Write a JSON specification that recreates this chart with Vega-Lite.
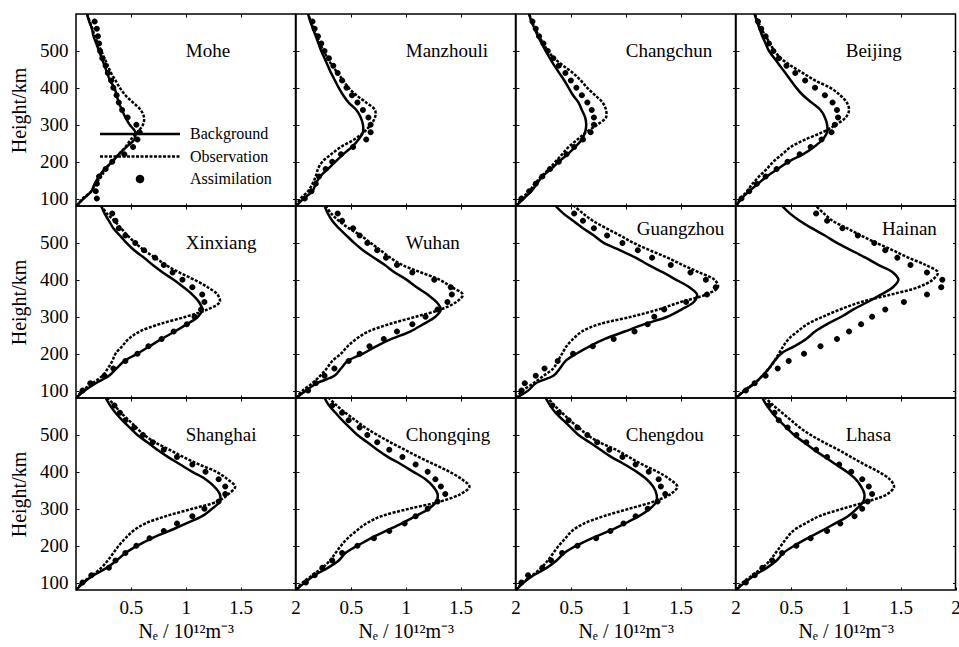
{
"$schema":"https://vega.github.io/schema/vega-lite/v6.json",
"background":"white",
"padding":{"left":8,"top":12,"right":0,"bottom":0},
"datasets":{"d":[
{"s":"Mohe","h":600,"b":0.10,"o":0.10},
{"s":"Mohe","h":580,"b":0.12,"o":0.125,"a":0.17},
{"s":"Mohe","h":560,"b":0.145,"o":0.15,"a":0.19},
{"s":"Mohe","h":540,"b":0.16,"o":0.17,"a":0.20},
{"s":"Mohe","h":520,"b":0.185,"o":0.20,"a":0.21},
{"s":"Mohe","h":500,"b":0.21,"o":0.23,"a":0.22},
{"s":"Mohe","h":480,"b":0.235,"o":0.26,"a":0.24},
{"s":"Mohe","h":460,"b":0.26,"o":0.29,"a":0.27},
{"s":"Mohe","h":440,"b":0.285,"o":0.32,"a":0.29},
{"s":"Mohe","h":420,"b":0.31,"o":0.36,"a":0.32},
{"s":"Mohe","h":400,"b":0.35,"o":0.40,"a":0.34},
{"s":"Mohe","h":380,"b":0.37,"o":0.45,"a":0.37},
{"s":"Mohe","h":360,"b":0.39,"o":0.52,"a":0.39},
{"s":"Mohe","h":340,"b":0.42,"o":0.59,"a":0.42},
{"s":"Mohe","h":320,"b":0.45,"o":0.62,"a":0.47},
{"s":"Mohe","h":300,"b":0.49,"o":0.61,"a":0.55},
{"s":"Mohe","h":280,"b":0.54,"o":0.56,"a":0.58},
{"s":"Mohe","h":260,"b":0.53,"o":0.50,"a":0.56},
{"s":"Mohe","h":240,"b":0.46,"o":0.45,"a":0.52},
{"s":"Mohe","h":220,"b":0.39,"o":0.39,"a":0.44},
{"s":"Mohe","h":200,"b":0.33,"o":0.33,"a":0.33},
{"s":"Mohe","h":180,"b":0.26,"o":0.27,"a":0.27},
{"s":"Mohe","h":160,"b":0.21,"o":0.23,"a":0.21},
{"s":"Mohe","h":140,"b":0.17,"o":0.18,"a":0.19},
{"s":"Mohe","h":120,"b":0.14,"o":0.14,"a":0.18},
{"s":"Mohe","h":100,"b":0.07,"o":0.06,"a":0.19},
{"s":"Mohe","h":80,"b":0.0,"o":0.01},
{"s":"Manzhouli","h":600,"b":0.11,"o":0.11},
{"s":"Manzhouli","h":580,"b":0.13,"o":0.135,"a":0.15},
{"s":"Manzhouli","h":560,"b":0.155,"o":0.16,"a":0.17},
{"s":"Manzhouli","h":540,"b":0.18,"o":0.19,"a":0.20},
{"s":"Manzhouli","h":520,"b":0.205,"o":0.22,"a":0.23},
{"s":"Manzhouli","h":500,"b":0.23,"o":0.25,"a":0.26},
{"s":"Manzhouli","h":480,"b":0.26,"o":0.29,"a":0.30},
{"s":"Manzhouli","h":460,"b":0.29,"o":0.33,"a":0.34},
{"s":"Manzhouli","h":440,"b":0.32,"o":0.38,"a":0.38},
{"s":"Manzhouli","h":420,"b":0.355,"o":0.43,"a":0.42},
{"s":"Manzhouli","h":400,"b":0.39,"o":0.48,"a":0.46},
{"s":"Manzhouli","h":380,"b":0.43,"o":0.55,"a":0.51},
{"s":"Manzhouli","h":360,"b":0.48,"o":0.64,"a":0.56},
{"s":"Manzhouli","h":340,"b":0.55,"o":0.72,"a":0.61},
{"s":"Manzhouli","h":320,"b":0.59,"o":0.72,"a":0.66},
{"s":"Manzhouli","h":300,"b":0.61,"o":0.68,"a":0.68},
{"s":"Manzhouli","h":280,"b":0.61,"o":0.62,"a":0.68},
{"s":"Manzhouli","h":260,"b":0.57,"o":0.53,"a":0.64},
{"s":"Manzhouli","h":240,"b":0.51,"o":0.41,"a":0.52},
{"s":"Manzhouli","h":220,"b":0.43,"o":0.32,"a":0.41},
{"s":"Manzhouli","h":200,"b":0.36,"o":0.24,"a":0.33},
{"s":"Manzhouli","h":180,"b":0.29,"o":0.20,"a":0.27},
{"s":"Manzhouli","h":160,"b":0.22,"o":0.18,"a":0.21},
{"s":"Manzhouli","h":140,"b":0.18,"o":0.15,"a":0.18},
{"s":"Manzhouli","h":120,"b":0.15,"o":0.11,"a":0.14},
{"s":"Manzhouli","h":100,"b":0.07,"o":0.04,"a":0.08},
{"s":"Manzhouli","h":80,"b":0.0,"o":0.0},
{"s":"Changchun","h":600,"b":0.12,"o":0.12},
{"s":"Changchun","h":580,"b":0.14,"o":0.145,"a":0.15},
{"s":"Changchun","h":560,"b":0.17,"o":0.175,"a":0.18},
{"s":"Changchun","h":540,"b":0.20,"o":0.21,"a":0.21},
{"s":"Changchun","h":520,"b":0.235,"o":0.25,"a":0.25},
{"s":"Changchun","h":500,"b":0.27,"o":0.29,"a":0.29},
{"s":"Changchun","h":480,"b":0.31,"o":0.35,"a":0.34},
{"s":"Changchun","h":460,"b":0.35,"o":0.43,"a":0.39},
{"s":"Changchun","h":440,"b":0.395,"o":0.52,"a":0.45},
{"s":"Changchun","h":420,"b":0.44,"o":0.59,"a":0.50},
{"s":"Changchun","h":400,"b":0.48,"o":0.65,"a":0.55},
{"s":"Changchun","h":380,"b":0.52,"o":0.72,"a":0.60},
{"s":"Changchun","h":360,"b":0.57,"o":0.79,"a":0.65},
{"s":"Changchun","h":340,"b":0.60,"o":0.82,"a":0.69},
{"s":"Changchun","h":320,"b":0.63,"o":0.82,"a":0.71},
{"s":"Changchun","h":300,"b":0.64,"o":0.74,"a":0.71},
{"s":"Changchun","h":280,"b":0.63,"o":0.64,"a":0.68},
{"s":"Changchun","h":260,"b":0.60,"o":0.56,"a":0.61},
{"s":"Changchun","h":240,"b":0.54,"o":0.48,"a":0.53},
{"s":"Changchun","h":220,"b":0.47,"o":0.42,"a":0.46},
{"s":"Changchun","h":200,"b":0.39,"o":0.36,"a":0.39},
{"s":"Changchun","h":180,"b":0.32,"o":0.30,"a":0.31},
{"s":"Changchun","h":160,"b":0.24,"o":0.23,"a":0.24},
{"s":"Changchun","h":140,"b":0.19,"o":0.17,"a":0.18},
{"s":"Changchun","h":120,"b":0.14,"o":0.12,"a":0.12},
{"s":"Changchun","h":100,"b":0.07,"o":0.05,"a":0.05},
{"s":"Changchun","h":80,"b":0.0,"o":0.0},
{"s":"Beijing","h":600,"b":0.17,"o":0.17},
{"s":"Beijing","h":580,"b":0.19,"o":0.20,"a":0.20},
{"s":"Beijing","h":560,"b":0.215,"o":0.23,"a":0.23},
{"s":"Beijing","h":540,"b":0.24,"o":0.27,"a":0.27},
{"s":"Beijing","h":520,"b":0.27,"o":0.31,"a":0.30},
{"s":"Beijing","h":500,"b":0.30,"o":0.35,"a":0.34},
{"s":"Beijing","h":480,"b":0.35,"o":0.41,"a":0.39},
{"s":"Beijing","h":460,"b":0.40,"o":0.50,"a":0.46},
{"s":"Beijing","h":440,"b":0.45,"o":0.61,"a":0.54},
{"s":"Beijing","h":420,"b":0.50,"o":0.72,"a":0.63},
{"s":"Beijing","h":400,"b":0.55,"o":0.86,"a":0.72},
{"s":"Beijing","h":380,"b":0.61,"o":0.95,"a":0.81},
{"s":"Beijing","h":360,"b":0.69,"o":1.01,"a":0.88},
{"s":"Beijing","h":340,"b":0.77,"o":1.03,"a":0.92},
{"s":"Beijing","h":320,"b":0.81,"o":1.00,"a":0.93},
{"s":"Beijing","h":300,"b":0.83,"o":0.91,"a":0.90},
{"s":"Beijing","h":280,"b":0.83,"o":0.79,"a":0.87},
{"s":"Beijing","h":260,"b":0.79,"o":0.63,"a":0.78},
{"s":"Beijing","h":240,"b":0.71,"o":0.50,"a":0.68},
{"s":"Beijing","h":220,"b":0.61,"o":0.42,"a":0.58},
{"s":"Beijing","h":200,"b":0.48,"o":0.34,"a":0.47},
{"s":"Beijing","h":180,"b":0.38,"o":0.28,"a":0.37},
{"s":"Beijing","h":160,"b":0.28,"o":0.21,"a":0.27},
{"s":"Beijing","h":140,"b":0.20,"o":0.15,"a":0.19},
{"s":"Beijing","h":120,"b":0.12,"o":0.10,"a":0.12},
{"s":"Beijing","h":100,"b":0.05,"o":0.04,"a":0.05},
{"s":"Beijing","h":80,"b":0.0,"o":0.0},
{"s":"Xinxiang","h":600,"b":0.23,"o":0.23},
{"s":"Xinxiang","h":580,"b":0.26,"o":0.28,"a":0.33},
{"s":"Xinxiang","h":560,"b":0.30,"o":0.35,"a":0.36},
{"s":"Xinxiang","h":540,"b":0.34,"o":0.41,"a":0.39},
{"s":"Xinxiang","h":520,"b":0.40,"o":0.47,"a":0.45},
{"s":"Xinxiang","h":500,"b":0.46,"o":0.54,"a":0.54},
{"s":"Xinxiang","h":480,"b":0.53,"o":0.62,"a":0.62},
{"s":"Xinxiang","h":460,"b":0.62,"o":0.72,"a":0.72},
{"s":"Xinxiang","h":440,"b":0.70,"o":0.82,"a":0.80},
{"s":"Xinxiang","h":420,"b":0.79,"o":0.94,"a":0.88},
{"s":"Xinxiang","h":400,"b":0.89,"o":1.08,"a":0.97},
{"s":"Xinxiang","h":380,"b":0.98,"o":1.20,"a":1.06},
{"s":"Xinxiang","h":360,"b":1.06,"o":1.29,"a":1.15},
{"s":"Xinxiang","h":340,"b":1.12,"o":1.31,"a":1.17},
{"s":"Xinxiang","h":320,"b":1.15,"o":1.20,"a":1.14},
{"s":"Xinxiang","h":300,"b":1.11,"o":1.00,"a":1.08},
{"s":"Xinxiang","h":280,"b":1.01,"o":0.76,"a":1.01},
{"s":"Xinxiang","h":260,"b":0.90,"o":0.58,"a":0.89},
{"s":"Xinxiang","h":240,"b":0.78,"o":0.48,"a":0.78},
{"s":"Xinxiang","h":220,"b":0.67,"o":0.42,"a":0.66},
{"s":"Xinxiang","h":200,"b":0.56,"o":0.36,"a":0.56},
{"s":"Xinxiang","h":180,"b":0.44,"o":0.33,"a":0.45},
{"s":"Xinxiang","h":160,"b":0.37,"o":0.29,"a":0.34},
{"s":"Xinxiang","h":140,"b":0.30,"o":0.24,"a":0.26},
{"s":"Xinxiang","h":120,"b":0.18,"o":0.15,"a":0.13},
{"s":"Xinxiang","h":100,"b":0.08,"o":0.06,"a":0.06},
{"s":"Xinxiang","h":80,"b":0.0,"o":0.0},
{"s":"Wuhan","h":600,"b":0.26,"o":0.27},
{"s":"Wuhan","h":580,"b":0.29,"o":0.32,"a":0.38},
{"s":"Wuhan","h":560,"b":0.33,"o":0.39,"a":0.42},
{"s":"Wuhan","h":540,"b":0.39,"o":0.48,"a":0.52},
{"s":"Wuhan","h":520,"b":0.46,"o":0.59,"a":0.58},
{"s":"Wuhan","h":500,"b":0.53,"o":0.68,"a":0.65},
{"s":"Wuhan","h":480,"b":0.61,"o":0.77,"a":0.74},
{"s":"Wuhan","h":460,"b":0.71,"o":0.86,"a":0.82},
{"s":"Wuhan","h":440,"b":0.81,"o":0.97,"a":0.92},
{"s":"Wuhan","h":420,"b":0.90,"o":1.14,"a":1.06},
{"s":"Wuhan","h":400,"b":1.01,"o":1.31,"a":1.26},
{"s":"Wuhan","h":380,"b":1.10,"o":1.42,"a":1.41},
{"s":"Wuhan","h":360,"b":1.20,"o":1.52,"a":1.42},
{"s":"Wuhan","h":340,"b":1.28,"o":1.46,"a":1.38},
{"s":"Wuhan","h":320,"b":1.32,"o":1.32,"a":1.29},
{"s":"Wuhan","h":300,"b":1.27,"o":1.09,"a":1.18},
{"s":"Wuhan","h":280,"b":1.16,"o":0.85,"a":1.06},
{"s":"Wuhan","h":260,"b":1.04,"o":0.66,"a":0.92},
{"s":"Wuhan","h":240,"b":0.87,"o":0.55,"a":0.80},
{"s":"Wuhan","h":220,"b":0.73,"o":0.47,"a":0.67},
{"s":"Wuhan","h":200,"b":0.61,"o":0.41,"a":0.58},
{"s":"Wuhan","h":180,"b":0.47,"o":0.33,"a":0.48},
{"s":"Wuhan","h":160,"b":0.41,"o":0.28,"a":0.35},
{"s":"Wuhan","h":140,"b":0.35,"o":0.22,"a":0.26},
{"s":"Wuhan","h":120,"b":0.19,"o":0.15,"a":0.18},
{"s":"Wuhan","h":100,"b":0.09,"o":0.06,"a":0.11},
{"s":"Wuhan","h":80,"b":0.0,"o":0.0},
{"s":"Guangzhou","h":600,"b":0.36,"o":0.53},
{"s":"Guangzhou","h":580,"b":0.43,"o":0.61,"a":0.53},
{"s":"Guangzhou","h":560,"b":0.52,"o":0.70,"a":0.61},
{"s":"Guangzhou","h":540,"b":0.61,"o":0.82,"a":0.71},
{"s":"Guangzhou","h":520,"b":0.71,"o":0.95,"a":0.83},
{"s":"Guangzhou","h":500,"b":0.80,"o":1.07,"a":0.97},
{"s":"Guangzhou","h":480,"b":0.95,"o":1.22,"a":1.11},
{"s":"Guangzhou","h":460,"b":1.09,"o":1.38,"a":1.24},
{"s":"Guangzhou","h":440,"b":1.21,"o":1.52,"a":1.41},
{"s":"Guangzhou","h":420,"b":1.34,"o":1.67,"a":1.59},
{"s":"Guangzhou","h":400,"b":1.46,"o":1.81,"a":1.73},
{"s":"Guangzhou","h":380,"b":1.58,"o":1.84,"a":1.82},
{"s":"Guangzhou","h":360,"b":1.65,"o":1.73,"a":1.74},
{"s":"Guangzhou","h":340,"b":1.62,"o":1.50,"a":1.55},
{"s":"Guangzhou","h":320,"b":1.51,"o":1.30,"a":1.35},
{"s":"Guangzhou","h":300,"b":1.38,"o":1.05,"a":1.26},
{"s":"Guangzhou","h":280,"b":1.17,"o":0.76,"a":1.20},
{"s":"Guangzhou","h":260,"b":0.99,"o":0.60,"a":1.08},
{"s":"Guangzhou","h":240,"b":0.81,"o":0.52,"a":0.89},
{"s":"Guangzhou","h":220,"b":0.67,"o":0.46,"a":0.70},
{"s":"Guangzhou","h":200,"b":0.55,"o":0.42,"a":0.52},
{"s":"Guangzhou","h":180,"b":0.45,"o":0.38,"a":0.38},
{"s":"Guangzhou","h":160,"b":0.40,"o":0.34,"a":0.26},
{"s":"Guangzhou","h":140,"b":0.34,"o":0.25,"a":0.18},
{"s":"Guangzhou","h":120,"b":0.18,"o":0.16,"a":0.08},
{"s":"Guangzhou","h":100,"b":0.11,"o":0.06,"a":0.05},
{"s":"Guangzhou","h":80,"b":0.0,"o":0.0},
{"s":"Hainan","h":600,"b":0.42,"o":0.73},
{"s":"Hainan","h":580,"b":0.49,"o":0.80,"a":0.73},
{"s":"Hainan","h":560,"b":0.58,"o":0.88,"a":0.83},
{"s":"Hainan","h":540,"b":0.69,"o":1.01,"a":0.97},
{"s":"Hainan","h":520,"b":0.81,"o":1.14,"a":1.11},
{"s":"Hainan","h":500,"b":0.92,"o":1.28,"a":1.26},
{"s":"Hainan","h":480,"b":1.05,"o":1.43,"a":1.36},
{"s":"Hainan","h":460,"b":1.18,"o":1.57,"a":1.47},
{"s":"Hainan","h":440,"b":1.30,"o":1.73,"a":1.59},
{"s":"Hainan","h":420,"b":1.43,"o":1.84,"a":1.74},
{"s":"Hainan","h":400,"b":1.48,"o":1.79,"a":1.88},
{"s":"Hainan","h":380,"b":1.43,"o":1.66,"a":1.87},
{"s":"Hainan","h":360,"b":1.32,"o":1.41,"a":1.74},
{"s":"Hainan","h":340,"b":1.20,"o":1.14,"a":1.53},
{"s":"Hainan","h":320,"b":1.07,"o":0.95,"a":1.36},
{"s":"Hainan","h":300,"b":0.96,"o":0.79,"a":1.24},
{"s":"Hainan","h":280,"b":0.83,"o":0.65,"a":1.14},
{"s":"Hainan","h":260,"b":0.72,"o":0.56,"a":1.03},
{"s":"Hainan","h":240,"b":0.64,"o":0.48,"a":0.92},
{"s":"Hainan","h":220,"b":0.53,"o":0.43,"a":0.77},
{"s":"Hainan","h":200,"b":0.41,"o":0.39,"a":0.62},
{"s":"Hainan","h":180,"b":0.35,"o":0.35,"a":0.48},
{"s":"Hainan","h":160,"b":0.30,"o":0.30,"a":0.38},
{"s":"Hainan","h":140,"b":0.24,"o":0.24,"a":0.27},
{"s":"Hainan","h":120,"b":0.17,"o":0.17,"a":0.17},
{"s":"Hainan","h":100,"b":0.08,"o":0.07,"a":0.09},
{"s":"Hainan","h":80,"b":0.0,"o":0.0},
{"s":"Shanghai","h":600,"b":0.27,"o":0.29},
{"s":"Shanghai","h":580,"b":0.31,"o":0.35,"a":0.35},
{"s":"Shanghai","h":560,"b":0.36,"o":0.41,"a":0.40},
{"s":"Shanghai","h":540,"b":0.42,"o":0.48,"a":0.45},
{"s":"Shanghai","h":520,"b":0.49,"o":0.55,"a":0.53},
{"s":"Shanghai","h":500,"b":0.56,"o":0.62,"a":0.61},
{"s":"Shanghai","h":480,"b":0.65,"o":0.72,"a":0.70},
{"s":"Shanghai","h":460,"b":0.74,"o":0.85,"a":0.80},
{"s":"Shanghai","h":440,"b":0.84,"o":0.98,"a":0.92},
{"s":"Shanghai","h":420,"b":0.95,"o":1.12,"a":1.06},
{"s":"Shanghai","h":400,"b":1.06,"o":1.28,"a":1.18},
{"s":"Shanghai","h":380,"b":1.18,"o":1.38,"a":1.30},
{"s":"Shanghai","h":360,"b":1.26,"o":1.45,"a":1.36},
{"s":"Shanghai","h":340,"b":1.31,"o":1.39,"a":1.36},
{"s":"Shanghai","h":320,"b":1.31,"o":1.29,"a":1.30},
{"s":"Shanghai","h":300,"b":1.24,"o":1.06,"a":1.17},
{"s":"Shanghai","h":280,"b":1.15,"o":0.82,"a":1.06},
{"s":"Shanghai","h":260,"b":1.00,"o":0.63,"a":0.92},
{"s":"Shanghai","h":240,"b":0.85,"o":0.52,"a":0.80},
{"s":"Shanghai","h":220,"b":0.69,"o":0.45,"a":0.67},
{"s":"Shanghai","h":200,"b":0.56,"o":0.39,"a":0.55},
{"s":"Shanghai","h":180,"b":0.45,"o":0.34,"a":0.45},
{"s":"Shanghai","h":160,"b":0.37,"o":0.29,"a":0.36},
{"s":"Shanghai","h":140,"b":0.28,"o":0.23,"a":0.30},
{"s":"Shanghai","h":120,"b":0.16,"o":0.15,"a":0.14},
{"s":"Shanghai","h":100,"b":0.07,"o":0.06,"a":0.06},
{"s":"Shanghai","h":80,"b":0.0,"o":0.0},
{"s":"Chongqing","h":600,"b":0.26,"o":0.30},
{"s":"Chongqing","h":580,"b":0.30,"o":0.37,"a":0.33},
{"s":"Chongqing","h":560,"b":0.36,"o":0.45,"a":0.42},
{"s":"Chongqing","h":540,"b":0.42,"o":0.54,"a":0.48},
{"s":"Chongqing","h":520,"b":0.49,"o":0.63,"a":0.58},
{"s":"Chongqing","h":500,"b":0.56,"o":0.74,"a":0.65},
{"s":"Chongqing","h":480,"b":0.65,"o":0.86,"a":0.74},
{"s":"Chongqing","h":460,"b":0.74,"o":0.99,"a":0.85},
{"s":"Chongqing","h":440,"b":0.84,"o":1.12,"a":0.97},
{"s":"Chongqing","h":420,"b":0.96,"o":1.26,"a":1.09},
{"s":"Chongqing","h":400,"b":1.07,"o":1.40,"a":1.20},
{"s":"Chongqing","h":380,"b":1.18,"o":1.51,"a":1.27},
{"s":"Chongqing","h":360,"b":1.25,"o":1.58,"a":1.32},
{"s":"Chongqing","h":340,"b":1.29,"o":1.50,"a":1.36},
{"s":"Chongqing","h":320,"b":1.28,"o":1.32,"a":1.29},
{"s":"Chongqing","h":300,"b":1.21,"o":1.03,"a":1.20},
{"s":"Chongqing","h":280,"b":1.09,"o":0.78,"a":1.09},
{"s":"Chongqing","h":260,"b":0.96,"o":0.64,"a":0.99},
{"s":"Chongqing","h":240,"b":0.82,"o":0.55,"a":0.85},
{"s":"Chongqing","h":220,"b":0.68,"o":0.47,"a":0.71},
{"s":"Chongqing","h":200,"b":0.56,"o":0.41,"a":0.56},
{"s":"Chongqing","h":180,"b":0.45,"o":0.36,"a":0.42},
{"s":"Chongqing","h":160,"b":0.39,"o":0.31,"a":0.33},
{"s":"Chongqing","h":140,"b":0.29,"o":0.24,"a":0.24},
{"s":"Chongqing","h":120,"b":0.17,"o":0.15,"a":0.17},
{"s":"Chongqing","h":100,"b":0.08,"o":0.06,"a":0.09},
{"s":"Chongqing","h":80,"b":0.0,"o":0.0},
{"s":"Chengdou","h":600,"b":0.27,"o":0.29},
{"s":"Chengdou","h":580,"b":0.31,"o":0.35,"a":0.33},
{"s":"Chengdou","h":560,"b":0.36,"o":0.42,"a":0.39},
{"s":"Chengdou","h":540,"b":0.43,"o":0.49,"a":0.48},
{"s":"Chengdou","h":520,"b":0.50,"o":0.57,"a":0.56},
{"s":"Chengdou","h":500,"b":0.57,"o":0.65,"a":0.65},
{"s":"Chengdou","h":480,"b":0.67,"o":0.76,"a":0.74},
{"s":"Chengdou","h":460,"b":0.77,"o":0.91,"a":0.85},
{"s":"Chengdou","h":440,"b":0.87,"o":1.03,"a":0.97},
{"s":"Chengdou","h":420,"b":0.99,"o":1.15,"a":1.09},
{"s":"Chengdou","h":400,"b":1.10,"o":1.29,"a":1.21},
{"s":"Chengdou","h":380,"b":1.19,"o":1.40,"a":1.30},
{"s":"Chengdou","h":360,"b":1.25,"o":1.47,"a":1.32},
{"s":"Chengdou","h":340,"b":1.28,"o":1.41,"a":1.36},
{"s":"Chengdou","h":320,"b":1.28,"o":1.26,"a":1.29},
{"s":"Chengdou","h":300,"b":1.22,"o":1.03,"a":1.20},
{"s":"Chengdou","h":280,"b":1.12,"o":0.80,"a":1.09},
{"s":"Chengdou","h":260,"b":0.99,"o":0.62,"a":0.98},
{"s":"Chengdou","h":240,"b":0.85,"o":0.51,"a":0.86},
{"s":"Chengdou","h":220,"b":0.69,"o":0.45,"a":0.73},
{"s":"Chengdou","h":200,"b":0.55,"o":0.39,"a":0.56},
{"s":"Chengdou","h":180,"b":0.44,"o":0.34,"a":0.42},
{"s":"Chengdou","h":160,"b":0.37,"o":0.29,"a":0.32},
{"s":"Chengdou","h":140,"b":0.28,"o":0.23,"a":0.24},
{"s":"Chengdou","h":120,"b":0.16,"o":0.15,"a":0.11},
{"s":"Chengdou","h":100,"b":0.07,"o":0.06,"a":0.05},
{"s":"Chengdou","h":80,"b":0.0,"o":0.0},
{"s":"Lhasa","h":600,"b":0.24,"o":0.27},
{"s":"Lhasa","h":580,"b":0.28,"o":0.34,"a":0.30},
{"s":"Lhasa","h":560,"b":0.33,"o":0.42,"a":0.35},
{"s":"Lhasa","h":540,"b":0.39,"o":0.50,"a":0.39},
{"s":"Lhasa","h":520,"b":0.46,"o":0.58,"a":0.47},
{"s":"Lhasa","h":500,"b":0.53,"o":0.68,"a":0.55},
{"s":"Lhasa","h":480,"b":0.62,"o":0.80,"a":0.64},
{"s":"Lhasa","h":460,"b":0.71,"o":0.93,"a":0.73},
{"s":"Lhasa","h":440,"b":0.81,"o":1.05,"a":0.83},
{"s":"Lhasa","h":420,"b":0.91,"o":1.17,"a":0.94},
{"s":"Lhasa","h":400,"b":1.01,"o":1.30,"a":1.05},
{"s":"Lhasa","h":380,"b":1.09,"o":1.40,"a":1.15},
{"s":"Lhasa","h":360,"b":1.14,"o":1.44,"a":1.21},
{"s":"Lhasa","h":340,"b":1.17,"o":1.38,"a":1.24},
{"s":"Lhasa","h":320,"b":1.16,"o":1.20,"a":1.20},
{"s":"Lhasa","h":300,"b":1.10,"o":0.97,"a":1.15},
{"s":"Lhasa","h":280,"b":1.02,"o":0.76,"a":1.08},
{"s":"Lhasa","h":260,"b":0.90,"o":0.63,"a":0.95},
{"s":"Lhasa","h":240,"b":0.78,"o":0.52,"a":0.83},
{"s":"Lhasa","h":220,"b":0.65,"o":0.46,"a":0.68},
{"s":"Lhasa","h":200,"b":0.53,"o":0.41,"a":0.55},
{"s":"Lhasa","h":180,"b":0.43,"o":0.36,"a":0.42},
{"s":"Lhasa","h":160,"b":0.37,"o":0.31,"a":0.33},
{"s":"Lhasa","h":140,"b":0.28,"o":0.24,"a":0.24},
{"s":"Lhasa","h":120,"b":0.17,"o":0.15,"a":0.17},
{"s":"Lhasa","h":100,"b":0.08,"o":0.06,"a":0.09},
{"s":"Lhasa","h":80,"b":0.0,"o":0.0}
]},
"data":{"name":"d"},
"columns":4,
"spacing":0,
"bounds":"flush",
"concat":[
{"width":219.5,"height":192,"transform":[{"filter":"datum.s==='Mohe'"}],"layer":[
 {"mark":{"type":"line","interpolate":"catmull-rom","color":"black","strokeWidth":2.5,"clip":true},"encoding":{"x":{"field":"b","type":"quantitative","scale":{"domain":[0,2],"nice":false,"zero":false},"axis":{"orient":"bottom","values":[0.5,1,1.5],"labels":false,"title":null}},"y":{"field":"h","type":"quantitative","scale":{"domain":[80,600],"nice":false,"zero":false},"axis":{"orient":"left","values":[100,200,300,400,500],"title":"Height/km"}},"order":{"field":"h","type":"quantitative"},"strokeDash":{"datum":"Background","type":"nominal","scale":{"domain":["Background","Observation","Assimilation"],"range":[[1,0],[3,1.5],[1,0]]},"legend":{"orient":"none","legendX":56,"legendY":112,"title":null,"direction":"vertical","padding":0,"labelFont":"Liberation Serif","labelFontSize":16,"labelColor":"black","symbolSize":100,"symbolStrokeWidth":2.5,"symbolStrokeColor":"black","symbolFillColor":"black","symbolOpacity":1,"labelOffset":42,"rowPadding":6.5}}}},
 {"mark":{"type":"line","interpolate":"catmull-rom","color":"black","strokeWidth":2.5,"clip":true},"encoding":{"x":{"field":"o","type":"quantitative","axis":{"orient":"top","values":[0.5,1,1.5],"labels":false,"title":null}},"y":{"field":"h","type":"quantitative","axis":{"orient":"right","values":[100,200,300,400,500],"labels":false,"title":null}},"order":{"field":"h","type":"quantitative"},"strokeDash":{"datum":"Observation","type":"nominal"}}},
 {"transform":[{"filter":"isValid(datum.a)"}],"mark":{"type":"point","filled":true,"color":"black","opacity":1,"size":100,"clip":true},"encoding":{"x":{"field":"a","type":"quantitative","axis":null},"y":{"field":"h","type":"quantitative","axis":null},"shape":{"datum":"Assimilation","type":"nominal","scale":{"domain":["Background","Observation","Assimilation"],"range":["M -8 0 L 8 0","M -8 0 L 8 0","M -0.6 0 A 0.6 0.6 0 1 0 0.6 0 A 0.6 0.6 0 1 0 -0.6 0 Z"]},"legend":{"orient":"none","legendX":56,"legendY":112,"title":null,"direction":"vertical","padding":0,"labelFont":"Liberation Serif","labelFontSize":16,"labelColor":"black","symbolSize":100,"symbolStrokeWidth":2.5,"symbolStrokeColor":"black","symbolFillColor":"black","symbolOpacity":1,"labelOffset":42,"rowPadding":6.5}}}},
 {"transform":[{"filter":"datum.h===600"}],"mark":{"type":"text","align":"left","baseline":"middle","font":"Liberation Serif","fontSize":19,"color":"black"},"encoding":{"x":{"datum":1,"type":"quantitative","axis":null},"y":{"datum":500,"type":"quantitative","axis":null},"text":{"field":"s"}}}
],"resolve":{"axis":{"x":"independent","y":"independent"}}},
{"width":219.5,"height":192,"transform":[{"filter":"datum.s==='Manzhouli'"}],"layer":[
 {"mark":{"type":"line","interpolate":"catmull-rom","color":"black","strokeWidth":2.5,"clip":true},"encoding":{"x":{"field":"b","type":"quantitative","scale":{"domain":[0,2],"nice":false,"zero":false},"axis":{"orient":"bottom","values":[0.5,1,1.5],"labels":false,"title":null}},"y":{"field":"h","type":"quantitative","scale":{"domain":[80,600],"nice":false,"zero":false},"axis":{"orient":"left","values":[100,200,300,400,500],"labels":false,"title":null}},"order":{"field":"h","type":"quantitative"}}},
 {"mark":{"type":"line","interpolate":"catmull-rom","color":"black","strokeWidth":2.5,"strokeDash":[3,1.5],"clip":true},"encoding":{"x":{"field":"o","type":"quantitative","axis":{"orient":"top","values":[0.5,1,1.5],"labels":false,"title":null}},"y":{"field":"h","type":"quantitative","axis":{"orient":"right","values":[100,200,300,400,500],"labels":false,"title":null}},"order":{"field":"h","type":"quantitative"}}},
 {"transform":[{"filter":"isValid(datum.a)"}],"mark":{"type":"point","filled":true,"color":"black","opacity":1,"size":100,"shape":"M -0.6 0 A 0.6 0.6 0 1 0 0.6 0 A 0.6 0.6 0 1 0 -0.6 0 Z","clip":true},"encoding":{"x":{"field":"a","type":"quantitative","axis":null},"y":{"field":"h","type":"quantitative","axis":null}}},
 {"transform":[{"filter":"datum.h===600"}],"mark":{"type":"text","align":"left","baseline":"middle","font":"Liberation Serif","fontSize":19,"color":"black"},"encoding":{"x":{"datum":1,"type":"quantitative","axis":null},"y":{"datum":500,"type":"quantitative","axis":null},"text":{"field":"s"}}}
],"resolve":{"axis":{"x":"independent","y":"independent"}}},
{"width":219.5,"height":192,"transform":[{"filter":"datum.s==='Changchun'"}],"layer":[
 {"mark":{"type":"line","interpolate":"catmull-rom","color":"black","strokeWidth":2.5,"clip":true},"encoding":{"x":{"field":"b","type":"quantitative","scale":{"domain":[0,2],"nice":false,"zero":false},"axis":{"orient":"bottom","values":[0.5,1,1.5],"labels":false,"title":null}},"y":{"field":"h","type":"quantitative","scale":{"domain":[80,600],"nice":false,"zero":false},"axis":{"orient":"left","values":[100,200,300,400,500],"labels":false,"title":null}},"order":{"field":"h","type":"quantitative"}}},
 {"mark":{"type":"line","interpolate":"catmull-rom","color":"black","strokeWidth":2.5,"strokeDash":[3,1.5],"clip":true},"encoding":{"x":{"field":"o","type":"quantitative","axis":{"orient":"top","values":[0.5,1,1.5],"labels":false,"title":null}},"y":{"field":"h","type":"quantitative","axis":{"orient":"right","values":[100,200,300,400,500],"labels":false,"title":null}},"order":{"field":"h","type":"quantitative"}}},
 {"transform":[{"filter":"isValid(datum.a)"}],"mark":{"type":"point","filled":true,"color":"black","opacity":1,"size":100,"shape":"M -0.6 0 A 0.6 0.6 0 1 0 0.6 0 A 0.6 0.6 0 1 0 -0.6 0 Z","clip":true},"encoding":{"x":{"field":"a","type":"quantitative","axis":null},"y":{"field":"h","type":"quantitative","axis":null}}},
 {"transform":[{"filter":"datum.h===600"}],"mark":{"type":"text","align":"left","baseline":"middle","font":"Liberation Serif","fontSize":19,"color":"black"},"encoding":{"x":{"datum":1,"type":"quantitative","axis":null},"y":{"datum":500,"type":"quantitative","axis":null},"text":{"field":"s"}}}
],"resolve":{"axis":{"x":"independent","y":"independent"}}},
{"width":219.5,"height":192,"transform":[{"filter":"datum.s==='Beijing'"}],"layer":[
 {"mark":{"type":"line","interpolate":"catmull-rom","color":"black","strokeWidth":2.5,"clip":true},"encoding":{"x":{"field":"b","type":"quantitative","scale":{"domain":[0,2],"nice":false,"zero":false},"axis":{"orient":"bottom","values":[0.5,1,1.5],"labels":false,"title":null}},"y":{"field":"h","type":"quantitative","scale":{"domain":[80,600],"nice":false,"zero":false},"axis":{"orient":"left","values":[100,200,300,400,500],"labels":false,"title":null}},"order":{"field":"h","type":"quantitative"}}},
 {"mark":{"type":"line","interpolate":"catmull-rom","color":"black","strokeWidth":2.5,"strokeDash":[3,1.5],"clip":true},"encoding":{"x":{"field":"o","type":"quantitative","axis":{"orient":"top","values":[0.5,1,1.5],"labels":false,"title":null}},"y":{"field":"h","type":"quantitative","axis":{"orient":"right","values":[100,200,300,400,500],"labels":false,"title":null}},"order":{"field":"h","type":"quantitative"}}},
 {"transform":[{"filter":"isValid(datum.a)"}],"mark":{"type":"point","filled":true,"color":"black","opacity":1,"size":100,"shape":"M -0.6 0 A 0.6 0.6 0 1 0 0.6 0 A 0.6 0.6 0 1 0 -0.6 0 Z","clip":true},"encoding":{"x":{"field":"a","type":"quantitative","axis":null},"y":{"field":"h","type":"quantitative","axis":null}}},
 {"transform":[{"filter":"datum.h===600"}],"mark":{"type":"text","align":"left","baseline":"middle","font":"Liberation Serif","fontSize":19,"color":"black"},"encoding":{"x":{"datum":1,"type":"quantitative","axis":null},"y":{"datum":500,"type":"quantitative","axis":null},"text":{"field":"s"}}}
],"resolve":{"axis":{"x":"independent","y":"independent"}}},
{"width":219.5,"height":192,"transform":[{"filter":"datum.s==='Xinxiang'"}],"layer":[
 {"mark":{"type":"line","interpolate":"catmull-rom","color":"black","strokeWidth":2.5,"clip":true},"encoding":{"x":{"field":"b","type":"quantitative","scale":{"domain":[0,2],"nice":false,"zero":false},"axis":{"orient":"bottom","values":[0.5,1,1.5],"labels":false,"title":null}},"y":{"field":"h","type":"quantitative","scale":{"domain":[80,600],"nice":false,"zero":false},"axis":{"orient":"left","values":[100,200,300,400,500],"title":"Height/km"}},"order":{"field":"h","type":"quantitative"}}},
 {"mark":{"type":"line","interpolate":"catmull-rom","color":"black","strokeWidth":2.5,"strokeDash":[3,1.5],"clip":true},"encoding":{"x":{"field":"o","type":"quantitative","axis":{"orient":"top","values":[0.5,1,1.5],"labels":false,"title":null}},"y":{"field":"h","type":"quantitative","axis":{"orient":"right","values":[100,200,300,400,500],"labels":false,"title":null}},"order":{"field":"h","type":"quantitative"}}},
 {"transform":[{"filter":"isValid(datum.a)"}],"mark":{"type":"point","filled":true,"color":"black","opacity":1,"size":100,"shape":"M -0.6 0 A 0.6 0.6 0 1 0 0.6 0 A 0.6 0.6 0 1 0 -0.6 0 Z","clip":true},"encoding":{"x":{"field":"a","type":"quantitative","axis":null},"y":{"field":"h","type":"quantitative","axis":null}}},
 {"transform":[{"filter":"datum.h===600"}],"mark":{"type":"text","align":"left","baseline":"middle","font":"Liberation Serif","fontSize":19,"color":"black"},"encoding":{"x":{"datum":1,"type":"quantitative","axis":null},"y":{"datum":500,"type":"quantitative","axis":null},"text":{"field":"s"}}}
],"resolve":{"axis":{"x":"independent","y":"independent"}}},
{"width":219.5,"height":192,"transform":[{"filter":"datum.s==='Wuhan'"}],"layer":[
 {"mark":{"type":"line","interpolate":"catmull-rom","color":"black","strokeWidth":2.5,"clip":true},"encoding":{"x":{"field":"b","type":"quantitative","scale":{"domain":[0,2],"nice":false,"zero":false},"axis":{"orient":"bottom","values":[0.5,1,1.5],"labels":false,"title":null}},"y":{"field":"h","type":"quantitative","scale":{"domain":[80,600],"nice":false,"zero":false},"axis":{"orient":"left","values":[100,200,300,400,500],"labels":false,"title":null}},"order":{"field":"h","type":"quantitative"}}},
 {"mark":{"type":"line","interpolate":"catmull-rom","color":"black","strokeWidth":2.5,"strokeDash":[3,1.5],"clip":true},"encoding":{"x":{"field":"o","type":"quantitative","axis":{"orient":"top","values":[0.5,1,1.5],"labels":false,"title":null}},"y":{"field":"h","type":"quantitative","axis":{"orient":"right","values":[100,200,300,400,500],"labels":false,"title":null}},"order":{"field":"h","type":"quantitative"}}},
 {"transform":[{"filter":"isValid(datum.a)"}],"mark":{"type":"point","filled":true,"color":"black","opacity":1,"size":100,"shape":"M -0.6 0 A 0.6 0.6 0 1 0 0.6 0 A 0.6 0.6 0 1 0 -0.6 0 Z","clip":true},"encoding":{"x":{"field":"a","type":"quantitative","axis":null},"y":{"field":"h","type":"quantitative","axis":null}}},
 {"transform":[{"filter":"datum.h===600"}],"mark":{"type":"text","align":"left","baseline":"middle","font":"Liberation Serif","fontSize":19,"color":"black"},"encoding":{"x":{"datum":1,"type":"quantitative","axis":null},"y":{"datum":500,"type":"quantitative","axis":null},"text":{"field":"s"}}}
],"resolve":{"axis":{"x":"independent","y":"independent"}}},
{"width":219.5,"height":192,"transform":[{"filter":"datum.s==='Guangzhou'"}],"layer":[
 {"mark":{"type":"line","interpolate":"catmull-rom","color":"black","strokeWidth":2.5,"clip":true},"encoding":{"x":{"field":"b","type":"quantitative","scale":{"domain":[0,2],"nice":false,"zero":false},"axis":{"orient":"bottom","values":[0.5,1,1.5],"labels":false,"title":null}},"y":{"field":"h","type":"quantitative","scale":{"domain":[80,600],"nice":false,"zero":false},"axis":{"orient":"left","values":[100,200,300,400,500],"labels":false,"title":null}},"order":{"field":"h","type":"quantitative"}}},
 {"mark":{"type":"line","interpolate":"catmull-rom","color":"black","strokeWidth":2.5,"strokeDash":[3,1.5],"clip":true},"encoding":{"x":{"field":"o","type":"quantitative","axis":{"orient":"top","values":[0.5,1,1.5],"labels":false,"title":null}},"y":{"field":"h","type":"quantitative","axis":{"orient":"right","values":[100,200,300,400,500],"labels":false,"title":null}},"order":{"field":"h","type":"quantitative"}}},
 {"transform":[{"filter":"isValid(datum.a)"}],"mark":{"type":"point","filled":true,"color":"black","opacity":1,"size":100,"shape":"M -0.6 0 A 0.6 0.6 0 1 0 0.6 0 A 0.6 0.6 0 1 0 -0.6 0 Z","clip":true},"encoding":{"x":{"field":"a","type":"quantitative","axis":null},"y":{"field":"h","type":"quantitative","axis":null}}},
 {"transform":[{"filter":"datum.h===600"}],"mark":{"type":"text","align":"left","baseline":"middle","font":"Liberation Serif","fontSize":19,"color":"black"},"encoding":{"x":{"datum":1.1,"type":"quantitative","axis":null},"y":{"datum":538,"type":"quantitative","axis":null},"text":{"field":"s"}}}
],"resolve":{"axis":{"x":"independent","y":"independent"}}},
{"width":219.5,"height":192,"transform":[{"filter":"datum.s==='Hainan'"}],"layer":[
 {"mark":{"type":"line","interpolate":"catmull-rom","color":"black","strokeWidth":2.5,"clip":true},"encoding":{"x":{"field":"b","type":"quantitative","scale":{"domain":[0,2],"nice":false,"zero":false},"axis":{"orient":"bottom","values":[0.5,1,1.5],"labels":false,"title":null}},"y":{"field":"h","type":"quantitative","scale":{"domain":[80,600],"nice":false,"zero":false},"axis":{"orient":"left","values":[100,200,300,400,500],"labels":false,"title":null}},"order":{"field":"h","type":"quantitative"}}},
 {"mark":{"type":"line","interpolate":"catmull-rom","color":"black","strokeWidth":2.5,"strokeDash":[3,1.5],"clip":true},"encoding":{"x":{"field":"o","type":"quantitative","axis":{"orient":"top","values":[0.5,1,1.5],"labels":false,"title":null}},"y":{"field":"h","type":"quantitative","axis":{"orient":"right","values":[100,200,300,400,500],"labels":false,"title":null}},"order":{"field":"h","type":"quantitative"}}},
 {"transform":[{"filter":"isValid(datum.a)"}],"mark":{"type":"point","filled":true,"color":"black","opacity":1,"size":100,"shape":"M -0.6 0 A 0.6 0.6 0 1 0 0.6 0 A 0.6 0.6 0 1 0 -0.6 0 Z","clip":true},"encoding":{"x":{"field":"a","type":"quantitative","axis":null},"y":{"field":"h","type":"quantitative","axis":null}}},
 {"transform":[{"filter":"datum.h===600"}],"mark":{"type":"text","align":"left","baseline":"middle","font":"Liberation Serif","fontSize":19,"color":"black"},"encoding":{"x":{"datum":1.33,"type":"quantitative","axis":null},"y":{"datum":538,"type":"quantitative","axis":null},"text":{"field":"s"}}}
],"resolve":{"axis":{"x":"independent","y":"independent"}}},
{"width":219.5,"height":192,"transform":[{"filter":"datum.s==='Shanghai'"}],"layer":[
 {"mark":{"type":"line","interpolate":"catmull-rom","color":"black","strokeWidth":2.5,"clip":true},"encoding":{"x":{"field":"b","type":"quantitative","scale":{"domain":[0,2],"nice":false,"zero":false},"axis":{"orient":"bottom","values":[0,0.5,1,1.5,2],"format":"~g","labelExpr":"datum.value==0?'':datum.label","title":"Nₑ / 10¹²m⁻³"}},"y":{"field":"h","type":"quantitative","scale":{"domain":[80,600],"nice":false,"zero":false},"axis":{"orient":"left","values":[100,200,300,400,500],"title":"Height/km"}},"order":{"field":"h","type":"quantitative"}}},
 {"mark":{"type":"line","interpolate":"catmull-rom","color":"black","strokeWidth":2.5,"strokeDash":[3,1.5],"clip":true},"encoding":{"x":{"field":"o","type":"quantitative","axis":{"orient":"top","values":[0.5,1,1.5],"labels":false,"title":null}},"y":{"field":"h","type":"quantitative","axis":{"orient":"right","values":[100,200,300,400,500],"labels":false,"title":null}},"order":{"field":"h","type":"quantitative"}}},
 {"transform":[{"filter":"isValid(datum.a)"}],"mark":{"type":"point","filled":true,"color":"black","opacity":1,"size":100,"shape":"M -0.6 0 A 0.6 0.6 0 1 0 0.6 0 A 0.6 0.6 0 1 0 -0.6 0 Z","clip":true},"encoding":{"x":{"field":"a","type":"quantitative","axis":null},"y":{"field":"h","type":"quantitative","axis":null}}},
 {"transform":[{"filter":"datum.h===600"}],"mark":{"type":"text","align":"left","baseline":"middle","font":"Liberation Serif","fontSize":19,"color":"black"},"encoding":{"x":{"datum":1,"type":"quantitative","axis":null},"y":{"datum":500,"type":"quantitative","axis":null},"text":{"field":"s"}}}
],"resolve":{"axis":{"x":"independent","y":"independent"}}},
{"width":219.5,"height":192,"transform":[{"filter":"datum.s==='Chongqing'"}],"layer":[
 {"mark":{"type":"line","interpolate":"catmull-rom","color":"black","strokeWidth":2.5,"clip":true},"encoding":{"x":{"field":"b","type":"quantitative","scale":{"domain":[0,2],"nice":false,"zero":false},"axis":{"orient":"bottom","values":[0,0.5,1,1.5,2],"format":"~g","labelExpr":"datum.value==0?'':datum.label","title":"Nₑ / 10¹²m⁻³"}},"y":{"field":"h","type":"quantitative","scale":{"domain":[80,600],"nice":false,"zero":false},"axis":{"orient":"left","values":[100,200,300,400,500],"labels":false,"title":null}},"order":{"field":"h","type":"quantitative"}}},
 {"mark":{"type":"line","interpolate":"catmull-rom","color":"black","strokeWidth":2.5,"strokeDash":[3,1.5],"clip":true},"encoding":{"x":{"field":"o","type":"quantitative","axis":{"orient":"top","values":[0.5,1,1.5],"labels":false,"title":null}},"y":{"field":"h","type":"quantitative","axis":{"orient":"right","values":[100,200,300,400,500],"labels":false,"title":null}},"order":{"field":"h","type":"quantitative"}}},
 {"transform":[{"filter":"isValid(datum.a)"}],"mark":{"type":"point","filled":true,"color":"black","opacity":1,"size":100,"shape":"M -0.6 0 A 0.6 0.6 0 1 0 0.6 0 A 0.6 0.6 0 1 0 -0.6 0 Z","clip":true},"encoding":{"x":{"field":"a","type":"quantitative","axis":null},"y":{"field":"h","type":"quantitative","axis":null}}},
 {"transform":[{"filter":"datum.h===600"}],"mark":{"type":"text","align":"left","baseline":"middle","font":"Liberation Serif","fontSize":19,"color":"black"},"encoding":{"x":{"datum":1,"type":"quantitative","axis":null},"y":{"datum":500,"type":"quantitative","axis":null},"text":{"field":"s"}}}
],"resolve":{"axis":{"x":"independent","y":"independent"}}},
{"width":219.5,"height":192,"transform":[{"filter":"datum.s==='Chengdou'"}],"layer":[
 {"mark":{"type":"line","interpolate":"catmull-rom","color":"black","strokeWidth":2.5,"clip":true},"encoding":{"x":{"field":"b","type":"quantitative","scale":{"domain":[0,2],"nice":false,"zero":false},"axis":{"orient":"bottom","values":[0,0.5,1,1.5,2],"format":"~g","labelExpr":"datum.value==0?'':datum.label","title":"Nₑ / 10¹²m⁻³"}},"y":{"field":"h","type":"quantitative","scale":{"domain":[80,600],"nice":false,"zero":false},"axis":{"orient":"left","values":[100,200,300,400,500],"labels":false,"title":null}},"order":{"field":"h","type":"quantitative"}}},
 {"mark":{"type":"line","interpolate":"catmull-rom","color":"black","strokeWidth":2.5,"strokeDash":[3,1.5],"clip":true},"encoding":{"x":{"field":"o","type":"quantitative","axis":{"orient":"top","values":[0.5,1,1.5],"labels":false,"title":null}},"y":{"field":"h","type":"quantitative","axis":{"orient":"right","values":[100,200,300,400,500],"labels":false,"title":null}},"order":{"field":"h","type":"quantitative"}}},
 {"transform":[{"filter":"isValid(datum.a)"}],"mark":{"type":"point","filled":true,"color":"black","opacity":1,"size":100,"shape":"M -0.6 0 A 0.6 0.6 0 1 0 0.6 0 A 0.6 0.6 0 1 0 -0.6 0 Z","clip":true},"encoding":{"x":{"field":"a","type":"quantitative","axis":null},"y":{"field":"h","type":"quantitative","axis":null}}},
 {"transform":[{"filter":"datum.h===600"}],"mark":{"type":"text","align":"left","baseline":"middle","font":"Liberation Serif","fontSize":19,"color":"black"},"encoding":{"x":{"datum":1,"type":"quantitative","axis":null},"y":{"datum":500,"type":"quantitative","axis":null},"text":{"field":"s"}}}
],"resolve":{"axis":{"x":"independent","y":"independent"}}},
{"width":219.5,"height":192,"transform":[{"filter":"datum.s==='Lhasa'"}],"layer":[
 {"mark":{"type":"line","interpolate":"catmull-rom","color":"black","strokeWidth":2.5,"clip":true},"encoding":{"x":{"field":"b","type":"quantitative","scale":{"domain":[0,2],"nice":false,"zero":false},"axis":{"orient":"bottom","values":[0,0.5,1,1.5,2],"format":"~g","labelExpr":"datum.value==0?'':datum.label","title":"Nₑ / 10¹²m⁻³"}},"y":{"field":"h","type":"quantitative","scale":{"domain":[80,600],"nice":false,"zero":false},"axis":{"orient":"left","values":[100,200,300,400,500],"labels":false,"title":null}},"order":{"field":"h","type":"quantitative"}}},
 {"mark":{"type":"line","interpolate":"catmull-rom","color":"black","strokeWidth":2.5,"strokeDash":[3,1.5],"clip":true},"encoding":{"x":{"field":"o","type":"quantitative","axis":{"orient":"top","values":[0.5,1,1.5],"labels":false,"title":null}},"y":{"field":"h","type":"quantitative","axis":{"orient":"right","values":[100,200,300,400,500],"labels":false,"title":null}},"order":{"field":"h","type":"quantitative"}}},
 {"transform":[{"filter":"isValid(datum.a)"}],"mark":{"type":"point","filled":true,"color":"black","opacity":1,"size":100,"shape":"M -0.6 0 A 0.6 0.6 0 1 0 0.6 0 A 0.6 0.6 0 1 0 -0.6 0 Z","clip":true},"encoding":{"x":{"field":"a","type":"quantitative","axis":null},"y":{"field":"h","type":"quantitative","axis":null}}},
 {"transform":[{"filter":"datum.h===600"}],"mark":{"type":"text","align":"left","baseline":"middle","font":"Liberation Serif","fontSize":19,"color":"black"},"encoding":{"x":{"datum":1,"type":"quantitative","axis":null},"y":{"datum":500,"type":"quantitative","axis":null},"text":{"field":"s"}}}
],"resolve":{"axis":{"x":"independent","y":"independent"}}}
],
"config":{
 "view":{"stroke":"black","strokeWidth":1.5},
 "axis":{"domain":false,"grid":false,"ticks":true,"tickSize":-3,"tickColor":"black","tickWidth":1,"labelFont":"Liberation Serif","labelFontSize":19,"labelColor":"black","labelPadding":11,"labelFlush":false,"labelOverlap":false,"titleFont":"Liberation Serif","titleFontSize":20,"titleFontWeight":"normal","titleColor":"black"},
 "axisX":{"titlePadding":4},
 "axisY":{"titlePadding":10}
}
}
